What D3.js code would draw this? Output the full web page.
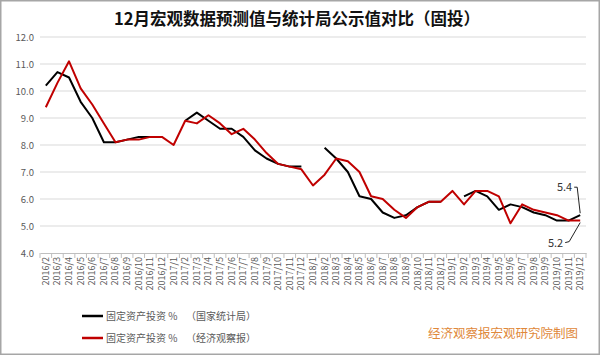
<!DOCTYPE html>
<html><head><meta charset="utf-8">
<script src="https://cdn.jsdelivr.net/npm/d3@7"></script>
<style>
html,body{margin:0;padding:0;background:#fff;}
svg{display:block;}
text{font-family:"Noto Sans CJK SC","Noto Sans",sans-serif;}
</style></head>
<body>
<script>
const categories = [
 "2016/2","2016/3","2016/4","2016/5","2016/6","2016/7","2016/8","2016/9","2016/10","2016/11","2016/12",
 "2017/1","2017/2","2017/3","2017/4","2017/5","2017/6","2017/7","2017/8","2017/9","2017/10","2017/11","2017/12",
 "2018/1","2018/2","2018/3","2018/4","2018/5","2018/6","2018/7","2018/8","2018/9","2018/10","2018/11","2018/12",
 "2019/1","2019/2","2019/3","2019/4","2019/5","2019/6","2019/7","2019/8","2019/9","2019/10","2019/11","2019/12"];
// 固定资产投资 % （国家统计局）
const nbsValues = [
 10.2,10.7,10.5,9.6,9.0,8.1,8.1,8.2,8.3,8.3,null,
 null,8.9,9.2,8.9,8.6,8.6,8.3,7.8,7.5,7.3,7.2,7.2,
 null,7.9,7.5,7.0,6.1,6.0,5.5,5.3,5.4,5.7,5.9,5.9,
 null,6.1,6.3,6.1,5.6,5.8,5.7,5.5,5.4,5.2,5.2,5.4];
// 固定资产投资 % （经济观察报）
const eeoValues = [
 9.4,10.3,11.1,10.1,9.5,8.8,8.1,8.2,8.2,8.3,8.3,
 8.0,8.9,8.8,9.1,8.8,8.4,8.6,8.2,7.7,7.3,7.2,7.1,
 6.5,6.9,7.5,7.4,7.0,6.1,6.0,5.6,5.3,5.7,5.9,5.9,
 6.3,5.8,6.3,6.3,6.1,5.1,5.8,5.6,5.5,5.4,5.2,5.2];
const yTicks = [4,5,6,7,8,9,10,11,12];
const seriesNames = ["固定资产投资 %","固定资产投资 %"];
const seriesSources = ["（国家统计局）","（经济观察报）"];
const titleText = "12月宏观数据预测值与统计局公示值对比（固投）";
const creditText = "经济观察报宏观研究院制图";

const W = 600, H = 355;
const svg = d3.select("body").append("svg").attr("width", W).attr("height", H);

svg.append("rect").attr("x",0.75).attr("y",0.75).attr("width",W-1.5).attr("height",H-1.5)
  .attr("fill","#fff").attr("stroke","#a6a6a6").attr("stroke-width",1.5);

svg.append("text").attr("x",297).attr("y",25).attr("text-anchor","middle")
  .attr("font-size",16.5).attr("font-weight","bold").attr("fill","#111").text(titleText);

const x = d3.scaleBand().domain(categories).range([40,586]).padding(0);
const y = d3.scaleLinear().domain([4,12]).range([253,37]);

// gridlines
svg.append("g").selectAll("line").data(yTicks.filter(d=>d>4)).join("line")
  .attr("x1",40).attr("x2",586).attr("y1",d=>y(d)).attr("y2",d=>y(d))
  .attr("stroke","#d9d9d9").attr("stroke-width",1);

// y axis labels
const yAxis = d3.axisLeft(y).tickValues(yTicks).tickFormat(d3.format(".1f")).tickSize(0).tickPadding(6);
const gy = svg.append("g").attr("transform","translate(40,0)").call(yAxis);
gy.select(".domain").remove();
gy.selectAll("text").attr("font-size",9.5).attr("fill","#595959").attr("font-family","'Noto Sans','DejaVu Sans',sans-serif");

// x axis
const xAxis = d3.axisBottom(x).tickSize(0).tickPadding(5);
const gx = svg.append("g").attr("transform","translate(0,253)").call(xAxis);
gx.select(".domain").attr("stroke","#bfbfbf");
gx.selectAll("text").attr("font-size",9).attr("fill","#595959")
  .attr("font-family","'Noto Sans','DejaVu Sans',sans-serif")
  .attr("transform","rotate(-90)").attr("text-anchor","end")
  .attr("dx","-4").attr("dy","0.33em").attr("x",0).attr("y",0);
// boundary tick marks
const bounds = categories.map(c=>x(c)).concat([x(categories[categories.length-1])+x.bandwidth()]);
svg.append("g").selectAll("line").data(bounds).join("line")
  .attr("x1",d=>d).attr("x2",d=>d).attr("y1",253).attr("y2",258)
  .attr("stroke","#bfbfbf").attr("stroke-width",1);

const cx = c => x(c) + x.bandwidth()/2;
const line = vals => d3.line()
  .defined(d=>d.v!==null)
  .x(d=>cx(d.c)).y(d=>y(d.v))(categories.map((c,i)=>({c, v: vals[i]})));

svg.append("path").attr("d",line(nbsValues)).attr("fill","none")
  .attr("stroke","#000").attr("stroke-width",2).attr("stroke-linejoin","round");
svg.append("path").attr("d",line(eeoValues)).attr("fill","none")
  .attr("stroke","#c00000").attr("stroke-width",2).attr("stroke-linejoin","round");

// annotations for last points
const lastC = categories[categories.length-1];
const lx = cx(lastC);
const nbsLast = nbsValues[nbsValues.length-1];
const eeoLast = eeoValues[eeoValues.length-1];
const py1 = y(nbsLast), py2 = y(eeoLast);
svg.append("path").attr("d",`M${lx-6},${py1-28} L${lx-3},${py1-28} L${lx},${py1-2}`)
  .attr("fill","none").attr("stroke","#222").attr("stroke-width",1);
svg.append("text").attr("x",lx-8).attr("y",py1-24).attr("text-anchor","end")
  .attr("font-size",11).attr("fill","#333").attr("font-family","'Noto Sans','DejaVu Sans',sans-serif")
  .text(d3.format(".1f")(nbsLast));
svg.append("path").attr("d",`M${lx-15},${py2+22} L${lx-11},${py2+21} L${lx},${py2+2}`)
  .attr("fill","none").attr("stroke","#222").attr("stroke-width",1);
svg.append("text").attr("x",lx-17).attr("y",py2+26).attr("text-anchor","end")
  .attr("font-size",11).attr("fill","#333").attr("font-family","'Noto Sans','DejaVu Sans',sans-serif")
  .text(d3.format(".1f")(eeoLast));

// legend
const legColors = ["#000","#c00000"];
const lg = svg.append("g");
[0,1].forEach(i=>{
  const yy = 316 + i*22;
  lg.append("line").attr("x1",82).attr("x2",103).attr("y1",yy).attr("y2",yy)
    .attr("stroke",legColors[i]).attr("stroke-width",2.5);
  lg.append("text").attr("x",106).attr("y",yy+3.5).attr("font-size",10).attr("fill","#595959").text(seriesNames[i]);
  lg.append("text").attr("x",186).attr("y",yy+3.5).attr("font-size",10).attr("fill","#595959").text(seriesSources[i]);
});

svg.append("text").attr("x",578).attr("y",338).attr("text-anchor","end")
  .attr("font-size",12.5).attr("fill","#e0883a").text(creditText);
</script>
</body></html>
